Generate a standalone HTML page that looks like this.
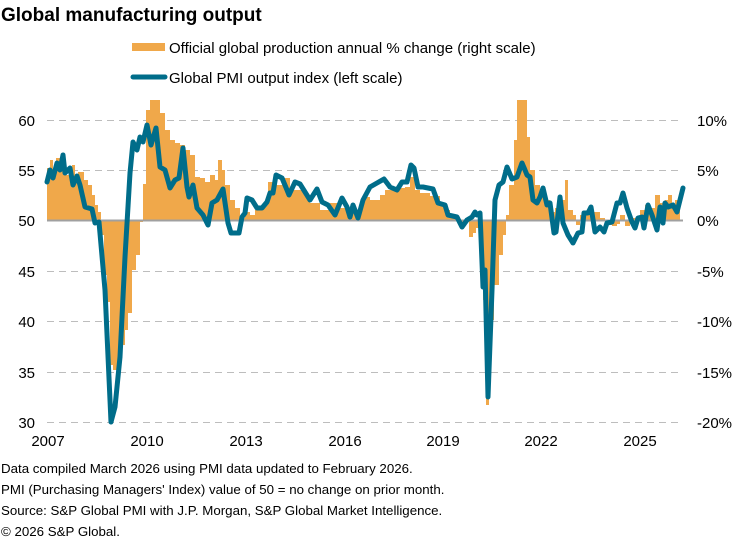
<!DOCTYPE html>
<html><head><meta charset="utf-8"><style>
body{margin:0;background:#fff;font-family:"Liberation Sans",Arial,sans-serif;}
svg{display:block}
</style></head><body>
<svg width="755" height="541" xmlns="http://www.w3.org/2000/svg" font-family="Liberation Sans, Arial, sans-serif">
<text x="1" y="21" font-size="19" font-weight="bold" fill="#000">Global manufacturing output</text>
<rect x="132" y="43" width="33" height="8" fill="#f0a84a"/>
<text x="169" y="53" font-size="15" fill="#000">Official global production annual % change (right scale)</text>
<line x1="133" y1="77" x2="165" y2="77" stroke="#006d8a" stroke-width="5" stroke-linecap="round"/>
<text x="169" y="83" font-size="15" fill="#000">Global PMI output index (left scale)</text>
<g stroke="#bdbdbd" stroke-width="1" stroke-dasharray="7,5">
<line x1="47" x2="683" y1="120.5" y2="120.5"/><line x1="47" x2="683" y1="170.5" y2="170.5"/>
<line x1="47" x2="683" y1="271.5" y2="271.5"/><line x1="47" x2="683" y1="321.5" y2="321.5"/>
<line x1="47" x2="683" y1="372.5" y2="372.5"/><line x1="47" x2="683" y1="422.5" y2="422.5"/>
</g>
<path fill="#f0a84a" d="M47,220 V168 H50 V160 H53 V172 H56 V158 H60 V165 H63 V162 H66 V175 H69 V168 H72 V165 H75 V180 H78 V172 H81 V172 H84 V180 H88 V185 H92 V195 H95 V205 H98 V212 H101 V235 H104 V275 H107 V302 H110 V365 H113 V370 H118 V370 H121 V345 H125 V330 H128 V313 H132 V270 H136 V255 H140 V222 H143 V184 H146 V110 H150 V100 H157 V100 H160 V113 H165 V130 H170 V140 H175 V143 H180 V145 H185 V150 H190 V155 H195 V177 H200 V178 H205 V182 H210 V175 H215 V180 H218 V160 H222 V170 H225 V185 H230 V200 H235 V208 H240 V218 H245 V212 H250 V215 H255 V210 H262 V205 H268 V182 H275 V185 H282 V178 H290 V190 H300 V190 H305 V197 H310 V203 H320 V210 H330 V203 H340 V208 H350 V210 H360 V202 H365 V197 H370 V200 H380 V195 H385 V190 H395 V188 H405 V187 H410 V177 H415 V190 H420 V193 H430 V196 H440 V205 H445 V210 H450 V215 H455 V218 H460 V222 H466 V222 H469 V237 H473 V233 H476 V228 H479 V250 H483 V300 H486 V405 H489 V320 H494 V285 H499 V255 H503 V235 H506 V215 H509 V185 H514 V140 H517 V100 H523 V100 H527 V137 H530 V170 H535 V185 H540 V195 H545 V200 H550 V212 H555 V208 H560 V200 H565 V180 H568 V210 H573 V215 H576 V225 H580 V215 H585 V212 H590 V212 H600 V218 H605 V225 H612 V226 H617 V224 H620 V215 H625 V226 H630 V218 H640 V210 H645 V205 H650 V208 H655 V195 H660 V203 H665 V200 H668 V195 H672 V205 H675 V200 H678 V207 H680 V220 Z"/>
<line x1="47" x2="683" y1="220.5" y2="220.5" stroke="#a0a0a0" stroke-width="2"/>
<polyline fill="none" stroke="#006d8a" stroke-width="5" stroke-linejoin="round" stroke-linecap="round" points="47,182 50,170 53,178 57,163 60,170 63,155 65,173 70,168 73,185 77,176 80,185 85,207 92,209 95,223 99,222 105,290 111,422 115,407 120,357 125,257 130,173 133,142 137,150 140,137 143,142 147,125 151,145 156,128 160,167 165,170 170,188 175,180 179,178 183,148 187,187 189,197 193,185 197,208 203,215 208,225 212,203 217,200 223,189 228,223 231,233 239,233 242,217 245,213 247,198 252,200 257,208 262,208 267,202 270,193 273,193 276,175 282,178 287,190 289,195 295,182 300,184 310,200 317,189 322,202 328,205 335,215 342,198 347,207 350,217 353,205 358,218 363,200 370,187 377,183 384,179 390,187 397,190 402,182 407,182 411,165 414,168 418,187 423,187 433,189 438,203 445,205 448,215 457,217 462,227 467,220 472,217 475,212 477,215 480,213 483,287 485,270 488,397 492,290 495,200 499,185 503,182 507,167 512,179 517,177 522,163 525,170 527,175 530,177 533,200 537,203 540,197 543,188 547,205 550,203 554,233 556,232 560,197 563,223 568,235 573,243 578,233 582,232 584,213 588,213 591,207 595,232 600,227 604,232 607,223 612,222 617,203 620,203 623,193 627,208 632,222 635,228 638,218 642,217 644,228 648,205 652,215 657,230 660,207 663,223 665,203 668,207 673,205 677,212 683,188"/>
<g font-size="15" fill="#000">
<text x="35" y="126" text-anchor="end">60</text><text x="35" y="176" text-anchor="end">55</text>
<text x="35" y="226" text-anchor="end">50</text><text x="35" y="277" text-anchor="end">45</text>
<text x="35" y="327" text-anchor="end">40</text><text x="35" y="378" text-anchor="end">35</text>
<text x="35" y="428" text-anchor="end">30</text>
<text x="697" y="126">10%</text><text x="697" y="176">5%</text><text x="697" y="226">0%</text>
<text x="697" y="277">-5%</text><text x="697" y="327">-10%</text><text x="697" y="378">-15%</text>
<text x="697" y="428">-20%</text>
<g text-anchor="middle">
<text x="48" y="446">2007</text><text x="147" y="446">2010</text><text x="246" y="446">2013</text>
<text x="345" y="446">2016</text><text x="443" y="446">2019</text><text x="541" y="446">2022</text>
<text x="640" y="446">2025</text></g>
</g>
<g font-size="13.3" fill="#000">
<text x="1" y="473">Data compiled March 2026 using PMI data updated to February 2026.</text>
<text x="1" y="494">PMI (Purchasing Managers' Index) value of 50 = no change on prior month.</text>
<text x="1" y="515">Source: S&amp;P Global PMI with J.P. Morgan, S&amp;P Global Market Intelligence.</text>
<text x="1" y="536">© 2026 S&amp;P Global.</text>
</g>
</svg>
</body></html>
